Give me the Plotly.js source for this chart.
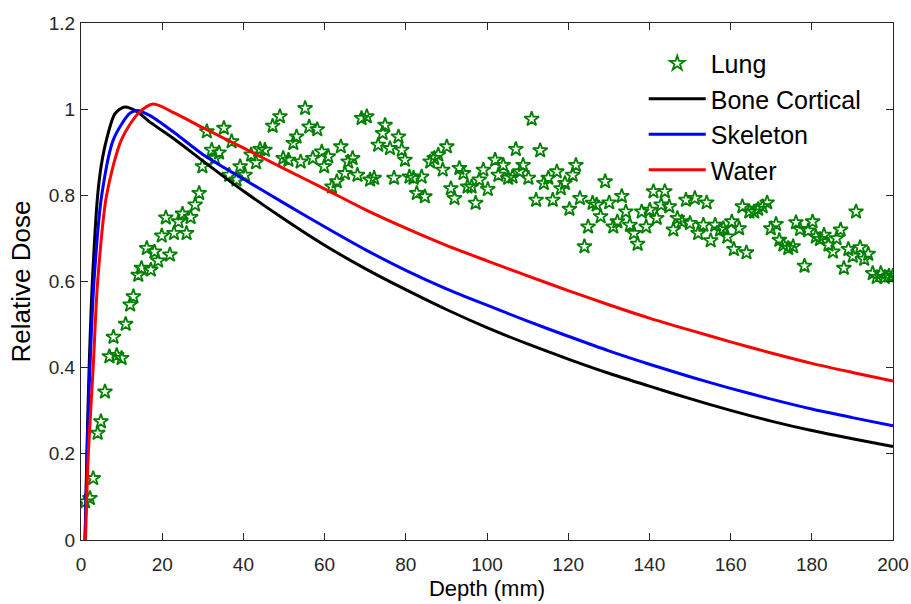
<!DOCTYPE html>
<html>
<head>
<meta charset="utf-8">
<script src="https://cdn.plot.ly/plotly-3.0.1.min.js"></script>
<style>html,body{margin:0;padding:0;background:#fff;}#chart{width:911px;height:604px;}</style>
</head>
<body>
<div id="chart"></div>
<script>
// Lung (scatter, stars)
var lungDepth = [1.0,2.2,3.0,4.1,4.9,5.9,7.0,8.0,8.8,10.0,11.0,12.1,12.9,14.1,14.9,16.2,17.2,18.1,19.0,19.9,20.9,21.9,22.9,24.0,25.0,26.0,27.0,28.1,29.1,29.9,31.0,32.2,33.0,34.0,35.2,36.5,37.1,38.3,39.2,40.4,41.9,43.1,44.1,45.3,47.2,49.0,49.8,51.1,52.3,53.1,54.1,55.2,56.2,57.1,58.2,59.3,59.9,60.9,61.8,63.0,64.0,65.0,65.8,66.9,68.1,69.1,70.4,71.2,72.2,73.2,74.3,74.9,76.1,77.1,78.2,79.0,79.8,80.9,81.9,82.7,83.9,84.7,86.0,87.0,88.0,89.1,90.1,91.1,92.0,93.2,94.2,95.2,96.2,97.2,98.1,99.1,100.2,102.0,102.8,104.0,105.2,106.3,107.1,108.1,108.9,110.2,111.0,112.1,113.1,114.0,115.1,116.2,117.2,118.2,119.2,120.3,121.1,121.9,122.9,124.0,124.9,126.0,127.0,128.0,129.1,130.1,131.1,132.1,133.2,134.2,135.2,136.2,137.1,138.1,139.2,140.1,141.0,141.8,142.9,143.8,144.9,145.9,146.9,148.0,149.0,150.0,151.2,152.0,153.3,154.1,155.1,156.2,157.4,158.2,159.2,160.3,160.8,162.1,162.9,163.9,164.6,165.8,166.8,167.9,169.0,169.9,171.2,172.0,173.0,174.2,175.4,176.1,177.1,178.2,179.1,180.2,181.0,182.0,183.0,184.1,185.2,186.1,187.1,187.9,189.0,190.1,190.9,191.9,192.9,193.9,195.0,196.0,197.0,198.0,199.0,200.0];
var lungDose = [0.089,0.097,0.143,0.248,0.275,0.344,0.426,0.471,0.429,0.422,0.501,0.546,0.565,0.615,0.631,0.677,0.627,0.669,0.648,0.706,0.748,0.662,0.712,0.739,0.757,0.712,0.749,0.778,0.805,0.867,0.948,0.905,0.886,0.899,0.956,0.847,0.925,0.836,0.867,0.847,0.894,0.876,0.907,0.905,0.961,0.983,0.886,0.882,0.921,0.936,0.878,1.002,0.959,0.886,0.953,0.901,0.867,0.890,0.820,0.832,0.913,0.851,0.878,0.886,0.847,0.979,0.983,0.836,0.840,0.917,0.944,0.963,0.909,0.840,0.936,0.905,0.882,0.843,0.840,0.805,0.843,0.797,0.878,0.886,0.894,0.859,0.913,0.816,0.793,0.863,0.851,0.820,0.820,0.782,0.836,0.859,0.814,0.882,0.847,0.870,0.840,0.843,0.907,0.855,0.870,0.840,0.977,0.789,0.904,0.828,0.840,0.789,0.855,0.816,0.828,0.768,0.847,0.870,0.793,0.681,0.727,0.782,0.778,0.751,0.832,0.783,0.727,0.739,0.798,0.762,0.731,0.712,0.687,0.762,0.727,0.766,0.809,0.747,0.778,0.809,0.774,0.720,0.747,0.739,0.789,0.735,0.793,0.712,0.731,0.783,0.695,0.731,0.720,0.723,0.704,0.739,0.675,0.723,0.774,0.667,0.762,0.762,0.768,0.774,0.783,0.723,0.733,0.696,0.685,0.677,0.681,0.737,0.721,0.636,0.718,0.739,0.704,0.698,0.708,0.685,0.669,0.700,0.720,0.631,0.675,0.659,0.762,0.679,0.652,0.664,0.619,0.610,0.619,0.610,0.613,0.613];

// Bone Cortical
var boneDepth = [1.0,1.5,2.0,2.8,4.1,5.0,6.3,8.4,10.8,13.7,17.0,23.2,30,40,50,60,70,80,90,100,110,120,130,140,150,160,170,180,190,200];
var boneDose  = [0.0,0.22,0.40,0.60,0.80,0.87,0.93,0.99,1.005,0.995,0.97,0.929,0.88,0.81,0.745,0.684,0.630,0.581,0.535,0.493,0.455,0.420,0.387,0.357,0.328,0.301,0.276,0.254,0.235,0.217];

// Skeleton
var skelDepth = [1.0,1.5,2.2,3.2,5.1,8.0,12.0,13.8,17.0,23.2,30,40,50,60,70,80,90,100,110,120,130,140,150,160,170,180,190,200];
var skelDose  = [0.0,0.20,0.40,0.60,0.80,0.93,0.99,0.997,0.985,0.944,0.895,0.838,0.782,0.727,0.674,0.626,0.583,0.545,0.508,0.473,0.439,0.408,0.379,0.352,0.327,0.304,0.284,0.265];

// Water
var waterDepth = [1.1,1.8,3.0,4.1,6.3,10.0,14.1,17.8,23.2,30,40,50,60,70,80,90,100,110,120,130,140,150,160,170,180,190,200];
var waterDose  = [0.0,0.20,0.40,0.60,0.80,0.93,0.99,1.012,0.99,0.957,0.91,0.862,0.815,0.767,0.724,0.684,0.648,0.613,0.579,0.546,0.515,0.487,0.460,0.434,0.410,0.389,0.369];

var xTicks = [0,20,40,60,80,100,120,140,160,180,200];
var yTicks = [0,0.2,0.4,0.6,0.8,1,1.2];
var yTickText = ['0','0.2','0.4','0.6','0.8','1','1.2'];

var font = 'Liberation Sans, Arial, sans-serif';
var traces = [
  {x: lungDepth, y: lungDose, name: 'Lung', mode: 'markers', type: 'scatter',
   marker: {symbol: 'star-open', size: 11, color: '#008000', line: {width: 1.8, color: '#008000'}}},
  {x: boneDepth, y: boneDose, name: 'Bone Cortical', mode: 'lines', type: 'scatter',
   line: {color: '#000000', width: 3, shape: 'spline', smoothing: 0.8}},
  {x: skelDepth, y: skelDose, name: 'Skeleton', mode: 'lines', type: 'scatter',
   line: {color: '#0000ff', width: 3, shape: 'spline', smoothing: 0.8}},
  {x: waterDepth, y: waterDose, name: 'Water', mode: 'lines', type: 'scatter',
   line: {color: '#ff0000', width: 3, shape: 'spline', smoothing: 0.8}}
];

var axisCommon = {
  showgrid: false, zeroline: false, showline: true, mirror: 'ticks',
  linecolor: '#262626', linewidth: 1, ticks: 'inside', ticklen: 7, tickcolor: '#262626',
  tickfont: {family: font, size: 19, color: '#262626'}
};

var layout = {
  width: 911, height: 604,
  margin: {l: 81, r: 18, t: 23, b: 64},
  paper_bgcolor: '#ffffff', plot_bgcolor: '#ffffff',
  showlegend: true,
  legend: {x: 0.693, y: 0.966, xanchor: 'left', yanchor: 'top', itemwidth: 57,
           bgcolor: 'rgba(255,255,255,0)', borderwidth: 0,
           font: {family: font, size: 25, color: '#000000'}, tracegroupgap: 0},
  xaxis: Object.assign({}, axisCommon, {range: [0, 200], tickvals: xTicks, ticklabelstandoff: 7,
    title: {text: 'Depth (mm)', font: {family: font, size: 22, color: '#000'}, standoff: 6}}),
  yaxis: Object.assign({}, axisCommon, {range: [0, 1.2], tickvals: yTicks, ticktext: yTickText, ticklabelstandoff: 1,
    title: {text: 'Relative Dose', font: {family: font, size: 26, color: '#000'}, standoff: 10}})
};

Plotly.newPlot('chart', traces, layout, {displayModeBar: false, staticPlot: true});
</script>
</body>
</html>
